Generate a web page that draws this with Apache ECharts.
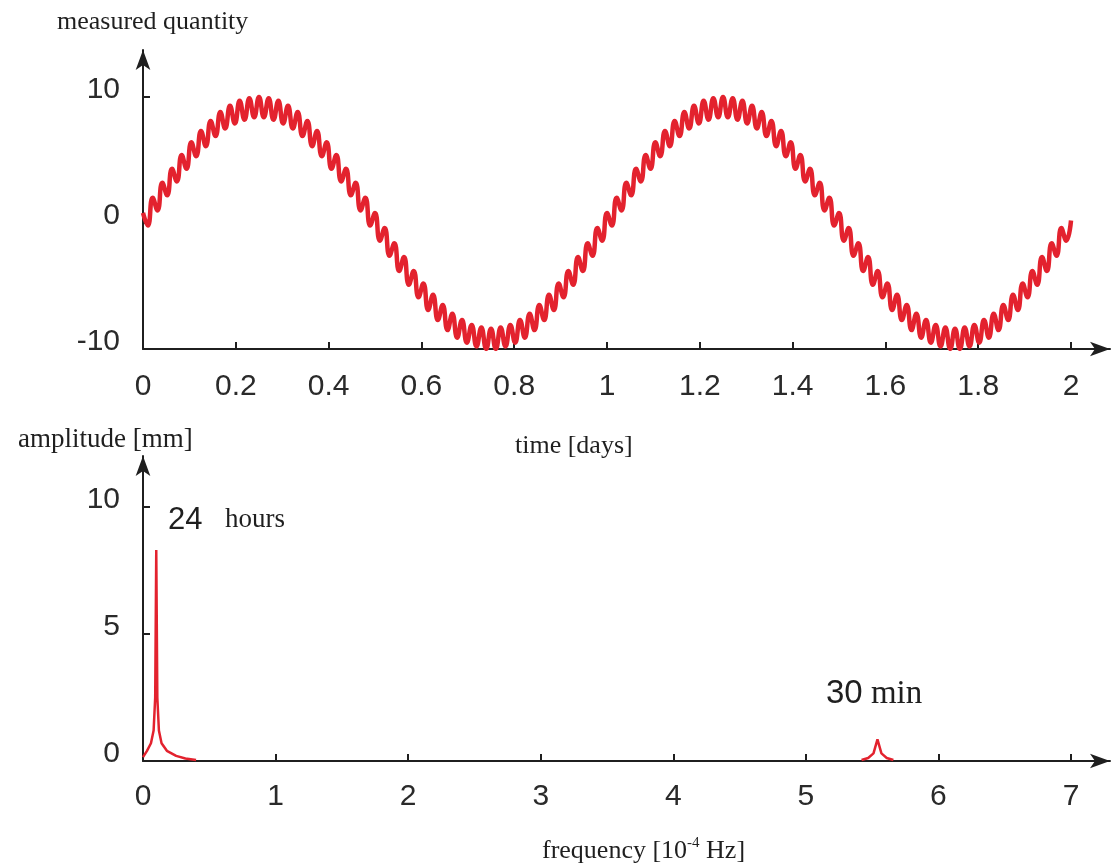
<!DOCTYPE html>
<html>
<head>
<meta charset="utf-8">
<script src="https://cdn.jsdelivr.net/npm/echarts@6/dist/echarts.min.js"></script>
<style>
  html, body { margin: 0; padding: 0; background: #ffffff; }
  #chart { width: 1113px; height: 865px; }
</style>
</head>
<body>
<div id="chart"></div>
<script>
// Measured signal, one reading every 15 minutes over two days
const sampleMinutes = 15;
const measuredDay1 = [
  0.8, -0.2, 2.0, 1.0, 3.2, 2.2, 4.3, 3.3, 5.4, 4.3, 6.4, 5.3, 7.3, 6.1, 8.1, 6.9, 8.8, 7.5, 9.3, 7.9, 9.7, 8.2, 9.9, 8.4, 10.0,
  8.4, 9.9, 8.2, 9.7, 7.9, 9.3, 7.5, 8.8, 6.9, 8.1, 6.1, 7.3, 5.3, 6.4, 4.3, 5.4, 3.3, 4.3, 2.2, 3.2, 1.0, 2.0, -0.2, 0.8,
  -1.4, -0.4, -2.6, -1.6, -3.8, -2.7, -4.9, -3.8, -5.9, -4.8, -6.9, -5.7, -7.7, -6.5, -8.5, -7.2, -9.1, -7.7, -9.5, -8.1, -9.8, -8.3, -10.0, -8.4,
  -10.0, -8.3, -9.8, -8.1, -9.5, -7.7, -9.1, -7.2, -8.5, -6.5, -7.7, -5.7, -6.9, -4.8, -5.9, -3.8, -4.9, -2.7, -3.8, -1.6, -2.6, -0.4, -1.4, 0.8
];
const measuredDay2 = [
  -0.2, 2.0, 1.0, 3.2, 2.2, 4.3, 3.3, 5.4, 4.3, 6.4, 5.3, 7.3, 6.1, 8.1, 6.9, 8.8, 7.5, 9.3, 7.9, 9.7, 8.2, 9.9, 8.4, 10.0,
  8.4, 9.9, 8.2, 9.7, 7.9, 9.3, 7.5, 8.8, 6.9, 8.1, 6.1, 7.3, 5.3, 6.4, 4.3, 5.4, 3.3, 4.3, 2.2, 3.2, 1.0, 2.0, -0.2, 0.8,
  -1.4, -0.4, -2.6, -1.6, -3.8, -2.7, -4.9, -3.8, -5.9, -4.8, -6.9, -5.7, -7.7, -6.5, -8.5, -7.2, -9.1, -7.7, -9.5, -8.1, -9.8, -8.3, -10.0, -8.4,
  -10.0, -8.3, -9.8, -8.1, -9.5, -7.7, -9.1, -7.2, -8.5, -6.5, -7.7, -5.7, -6.9, -4.8, -5.9, -3.8, -4.9, -2.7, -3.8, -1.6, -2.6, -0.4, -1.4, 0.2
];
const timeTicks = [0, 0.2, 0.4, 0.6, 0.8, 1, 1.2, 1.4, 1.6, 1.8, 2];
const quantityTicks = [-10, 0, 10];

// Amplitude spectrum (frequency in 1e-4 Hz, amplitude in mm); the flat floor between the peaks lies on the axis
const spectrumFreq = [0, 0.03, 0.06, 0.08, 0.092, 0.1, 0.108, 0.12, 0.14, 0.18, 0.25, 0.32, 0.4, 1.5, 5.42, 5.47, 5.51, 5.54, 5.57, 5.61, 5.66];
const spectrumAmp  = [0.15, 0.4, 0.7, 1.2, 2.5, 8.3, 2.5, 1.2, 0.7, 0.4, 0.2, 0.1, 0.04, null, 0.04, 0.12, 0.3, 0.85, 0.3, 0.12, 0.04];
const freqTicks = [0, 1, 2, 3, 4, 5, 6, 7];
const amplitudeTicks = [0, 5, 10];

const measured = measuredDay1.concat(measuredDay2);
const signalData = measured.map((v, i) => [i * sampleMinutes / 1440, v]);
const spectrumData = spectrumFreq.map((f, i) => [f, spectrumAmp[i] === null ? '-' : spectrumAmp[i]]);

const SANS = '"Liberation Sans", Arial, sans-serif';
const SERIF = '"Liberation Serif", "Times New Roman", serif';
const INK = '#1f1f1f';
const RED = '#e3222e';

function axisLine() {
  return {
    show: true,
    onZero: false,
    symbol: ['none', 'arrow'],
    symbolSize: [11, 20],
    lineStyle: { color: INK, width: 2 }
  };
}
function tick(values) {
  return { show: true, inside: true, length: 7, lineStyle: { color: INK, width: 2 }, customValues: values };
}
function xLabel(values, margin) {
  return { customValues: values, margin: margin, fontFamily: SANS, fontSize: 30, color: '#2a2a2a' };
}
function yLabel(values) {
  // labels sit slightly above their tick
  return { customValues: values, margin: 23, fontFamily: SANS, fontSize: 30, color: '#2a2a2a',
           verticalAlign: 'bottom', lineHeight: 14 };
}

const chart = echarts.init(document.getElementById('chart'), null, { renderer: 'canvas' });
chart.setOption({
  animation: false,
  backgroundColor: '#ffffff',
  grid: [
    { left: 143, right: 3, top: 50, bottom: 516, containLabel: false, outerBoundsMode: 'none' },
    { left: 143, right: 3, top: 456, bottom: 104, containLabel: false, outerBoundsMode: 'none' }
  ],
  xAxis: [
    { type: 'value', gridIndex: 0, min: 0, max: 2.084, axisLine: axisLine(), axisTick: tick(timeTicks),
      axisLabel: xLabel(timeTicks, 23), splitLine: { show: false } },
    { type: 'value', gridIndex: 1, min: 0, max: 7.294, axisLine: axisLine(), axisTick: tick(freqTicks),
      axisLabel: xLabel(freqTicks, 21), splitLine: { show: false } }
  ],
  yAxis: [
    { type: 'value', gridIndex: 0, min: -10, max: 13.73, axisLine: axisLine(), axisTick: tick(quantityTicks),
      axisLabel: yLabel(quantityTicks), splitLine: { show: false } },
    { type: 'value', gridIndex: 1, min: 0, max: 12.0, axisLine: axisLine(), axisTick: tick(amplitudeTicks),
      axisLabel: yLabel(amplitudeTicks), splitLine: { show: false } }
  ],
  series: [
    { type: 'line', xAxisIndex: 0, yAxisIndex: 0, data: signalData, showSymbol: false, smooth: 0.5,
      lineStyle: { color: RED, width: 4.5 }, z: 2 },
    { type: 'line', xAxisIndex: 1, yAxisIndex: 1, data: spectrumData, showSymbol: false, connectNulls: false,
      lineStyle: { color: RED, width: 2.5 }, z: 2 }
  ],
  graphic: [
    { type: 'text', x: 57, y: 22, style: { text: 'measured quantity', font: '26px ' + SERIF, fill: INK, verticalAlign: 'middle' } },
    { type: 'text', x: 515, y: 446, style: { text: 'time [days]', font: '26px ' + SERIF, fill: INK, verticalAlign: 'middle' } },
    { type: 'text', x: 18, y: 440, style: { text: 'amplitude [mm]', font: '27px ' + SERIF, fill: INK, verticalAlign: 'middle' } },
    { type: 'text', x: 168, y: 520, style: { text: '24', font: '31px ' + SANS, fill: INK, verticalAlign: 'middle' } },
    { type: 'text', x: 225, y: 520, style: { text: 'hours', font: '27px ' + SERIF, fill: INK, verticalAlign: 'middle' } },
    { type: 'text', x: 826, y: 694, style: {
        text: '{a|30}{b| min}', verticalAlign: 'middle', fill: INK,
        rich: { a: { fontFamily: SANS, fontSize: 33, fill: INK }, b: { fontFamily: SERIF, fontSize: 33, fill: INK } } } },
    { type: 'text', x: 542, y: 851, style: {
        text: '{n|frequency [10}{s|-4}{n| Hz]}', verticalAlign: 'middle', fill: INK,
        rich: { n: { fontFamily: SERIF, fontSize: 26, fill: INK, lineHeight: 30 },
                s: { fontFamily: SERIF, fontSize: 15, fill: INK, verticalAlign: 'top', lineHeight: 30 } } } }
  ]
});
</script>
</body>
</html>
